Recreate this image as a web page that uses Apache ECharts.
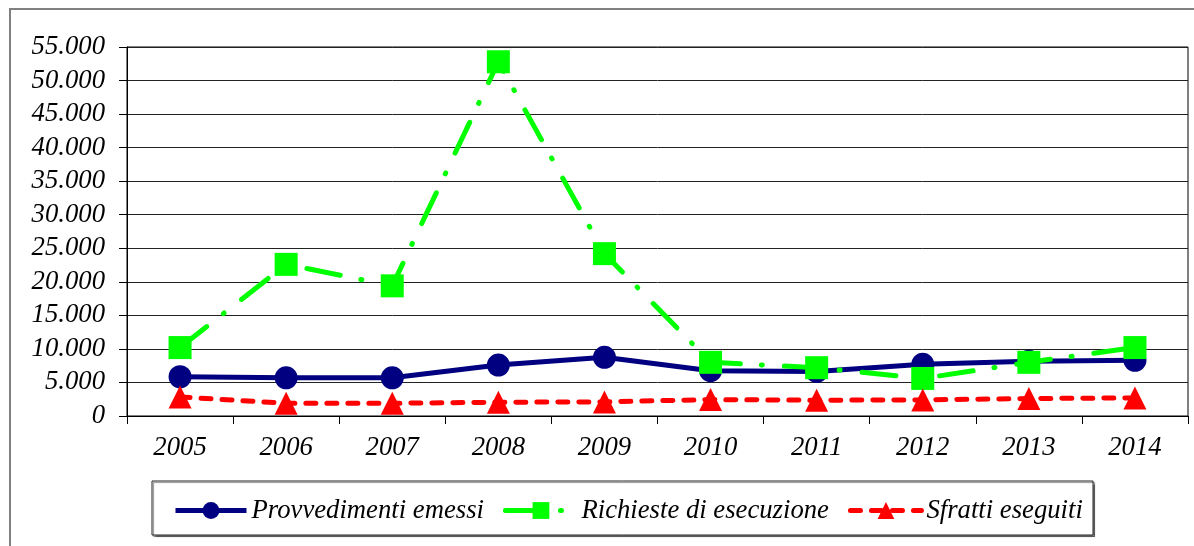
<!DOCTYPE html>
<html>
<head>
<meta charset="utf-8">
<title>Sfratti 2005-2014</title>
<script src="https://cdn.jsdelivr.net/npm/echarts@6/dist/echarts.min.js"></script>
<style>
  html, body { margin: 0; padding: 0; background: #fff; }
  #chart { width: 1194px; height: 546px; }
</style>
</head>
<body>
<div id="chart"></div>
<script>
// Years on the category axis
const years = ['2005', '2006', '2007', '2008', '2009', '2010', '2011', '2012', '2013', '2014'];

// Series values
const provvedimentiEmessi = [5850, 5700, 5700, 7600, 8750, 6750, 6650, 7700, 8150, 8300];
const richiesteEsecuzione = [10200, 22600, 19400, 52800, 24200, 8000, 7200, 5600, 8000, 10200];
const sfrattiEseguiti = [2850, 1900, 1900, 2050, 2100, 2450, 2350, 2400, 2600, 2700];

// Series names as shown in the legend
const seriesNames = ['Provvedimenti emessi', 'Richieste di esecuzione', 'Sfratti eseguiti'];

const FONT = '"Liberation Serif", "Times New Roman", serif';
const FONT_SIZE = 26.7;

// Line styles shared by the plotted lines and their legend icons
const styleProvv = { color: '#000080', width: 5 };
const styleRich = { color: '#00ff00', width: 5, type: [34, 21, 1, 22], cap: 'round' };
const styleSfr = { color: '#ff0000', width: 5, type: [10, 11], cap: 'round' };

// Thousands separator with a dot (Italian style)
function fmt(v) {
  return String(Math.round(v)).replace(/\B(?=(\d{3})+(?!\d))/g, '.');
}

const chart = echarts.init(document.getElementById('chart'), null, { renderer: 'canvas' });

chart.setOption({
  animation: false,
  backgroundColor: '#fff',
  graphic: [
    {
      type: 'rect',
      shape: { x: 10, y: 9, width: 1200, height: 560 },
      style: { fill: 'none', stroke: '#808080', lineWidth: 2 },
      silent: true
    },
    {
      type: 'rect',
      shape: { x: 152, y: 481, width: 941, height: 54 },
      style: {
        fill: '#fff', stroke: '#222', lineWidth: 1,
        shadowColor: 'rgba(0,0,0,0.45)', shadowOffsetX: 1.5, shadowOffsetY: 1.5, shadowBlur: 1
      },
      z: -1,
      silent: true
    }
  ],
  grid: {
    left: 127,
    right: 6,
    top: 47,
    bottom: 130,
    show: true,
    borderColor: '#000',
    borderWidth: 1
  },
  legend: {
    left: 168,
    top: 492,
    itemWidth: 71,
    itemHeight: 21,
    itemGap: 19,
    data: [
      { name: seriesNames[0], lineStyle: styleProvv },
      { name: seriesNames[1], lineStyle: styleRich },
      { name: seriesNames[2], lineStyle: styleSfr }
    ],
    textStyle: { fontFamily: FONT, fontStyle: 'italic', fontSize: FONT_SIZE, color: '#000' }
  },
  xAxis: {
    type: 'category',
    data: years,
    boundaryGap: true,
    axisLine: { lineStyle: { color: '#000', width: 1 } },
    axisTick: { show: true, length: 8, lineStyle: { color: '#000' } },
    axisLabel: { fontFamily: FONT, fontStyle: 'italic', fontSize: FONT_SIZE, color: '#000', margin: 18 },
    splitLine: { show: false }
  },
  yAxis: {
    type: 'value',
    min: 0,
    max: 55000,
    interval: 5000,
    axisLine: { show: true, lineStyle: { color: '#000', width: 1 } },
    axisTick: { show: true, length: 8, lineStyle: { color: '#000' } },
    axisLabel: { fontFamily: FONT, fontStyle: 'italic', fontSize: FONT_SIZE, color: '#000', margin: 22, formatter: fmt },
    splitLine: { show: true, lineStyle: { color: '#222', width: 1 } }
  },
  series: [
    {
      name: seriesNames[0],
      type: 'line',
      data: provvedimentiEmessi,
      symbol: 'circle',
      symbolSize: 23,
      itemStyle: { color: '#000080' },
      lineStyle: styleProvv,
      z: 3
    },
    {
      name: seriesNames[1],
      type: 'line',
      data: richiesteEsecuzione,
      symbol: 'rect',
      symbolSize: 23,
      itemStyle: { color: '#00ff00' },
      lineStyle: styleRich,
      z: 4
    },
    {
      name: seriesNames[2],
      type: 'line',
      data: sfrattiEseguiti,
      symbol: 'triangle',
      symbolSize: 23,
      itemStyle: { color: '#ff0000' },
      lineStyle: styleSfr,
      z: 5
    }
  ]
});
</script>
</body>
</html>
